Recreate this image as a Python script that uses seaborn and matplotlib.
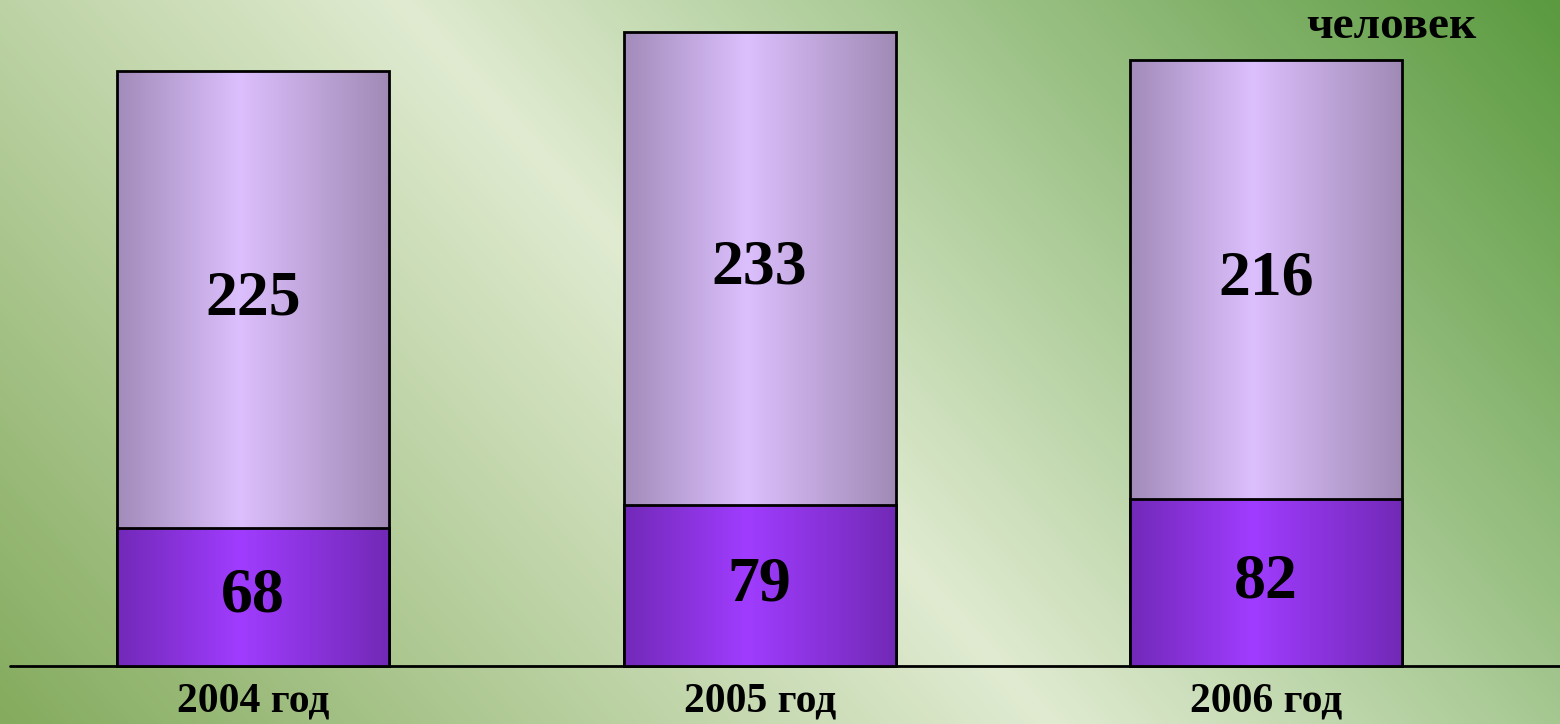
import numpy as np
import pandas as pd
import matplotlib.pyplot as plt
import seaborn as sns
from matplotlib.colors import LinearSegmentedColormap

# === Chart data ===
years = ["2004 год", "2005 год", "2006 год"]
lower_values = [68, 79, 82]
upper_values = [225, 233, 216]
unit_label = "человек"

sns.set_style("white")
plt.rcParams["font.family"] = ["Liberation Serif", "DejaVu Serif"]
plt.rcParams["font.weight"] = "bold"
plt.rcParams["text.color"] = "black"
plt.rcParams["xtick.color"] = "black"

df = pd.DataFrame({"year": years, "lower": lower_values, "upper": upper_values})
df["total"] = df["lower"] + df["upper"]

fig = plt.figure(figsize=(15.6, 7.24), dpi=100)

# === Diagonal green background ===
bg = fig.add_axes([0, 0, 1, 1], zorder=-10)
H, W = 724, 1560
yy, xx = np.mgrid[0:H, 0:W]
t = 724 * xx - 650 * yy
s = (t - t.min()) / (t.max() - t.min())
bg_cmap = LinearSegmentedColormap.from_list(
    "bg", [(0, "#84ab5e"), (0.475, "#e0ebd1"), (1, "#5b9a3f")])
bg.imshow(s, cmap=bg_cmap, aspect="auto")
bg.axis("off")

# === Stacked bars ===
ax = fig.add_axes([10 / 1560, 58 / 724, 1550 / 1560, 666 / 724])
ax.patch.set_alpha(0)

sns.barplot(data=df, x="year", y="total", color="#c8aee8", width=0.537,
            edgecolor="black", linewidth=2, errorbar=None, ax=ax)
sns.barplot(data=df, x="year", y="lower", color="#8a34e0", width=0.537,
            edgecolor="black", linewidth=2, errorbar=None, ax=ax)

upper_cmap = LinearSegmentedColormap.from_list(
    "upper", [(0, "#a28cba"), (0.45, "#dcbffd"), (1, "#a08ab5")])
lower_cmap = LinearSegmentedColormap.from_list(
    "lower", [(0, "#7229b8"), (0.45, "#a03cff"), (1, "#7229b6")])
grad = np.linspace(0, 1, 256).reshape(1, -1)

n = len(years)
for k, patch in enumerate(list(ax.patches)):
    cmap = upper_cmap if k < n else lower_cmap
    base_z = 1 if k < n else 3
    x0, y0 = patch.get_x(), patch.get_y()
    w, h = patch.get_width(), patch.get_height()
    im = ax.imshow(grad, cmap=cmap, extent=[x0, x0 + w, y0, y0 + h],
                   aspect="auto", zorder=base_z)
    im.set_clip_path(patch)
    patch.set_facecolor("none")
    patch.set_zorder(base_z + 0.5)
    patch.set_clip_on(False)

for i in range(n):
    ax.text(i, lower_values[i] / 2, str(lower_values[i]), ha="center", va="center",
            fontsize=46, fontweight="bold", color="black", zorder=6)
    ax.text(i, lower_values[i] + upper_values[i] / 2, str(upper_values[i]),
            ha="center", va="center", fontsize=46, fontweight="bold",
            color="black", zorder=6)

ax.axhline(0, color="black", linewidth=2, zorder=0.5, clip_on=False)
ax.set_xlim(-0.48, 2.58)
ax.set_ylim(0, 327.7)
ax.set_yticks([])
ax.set_xlabel("")
ax.set_ylabel("")
ax.tick_params(axis="x", length=0, pad=12, labelsize=30, labelcolor="black")
for lbl in ax.get_xticklabels():
    lbl.set_fontweight("bold")
sns.despine(ax=ax, left=True, bottom=True)

fig.text(1391 / 1560, 1 - 38 / 724, unit_label, ha="center", va="baseline",
         fontsize=34, fontweight="bold", color="black")

fig.savefig("out.png", dpi=100)
